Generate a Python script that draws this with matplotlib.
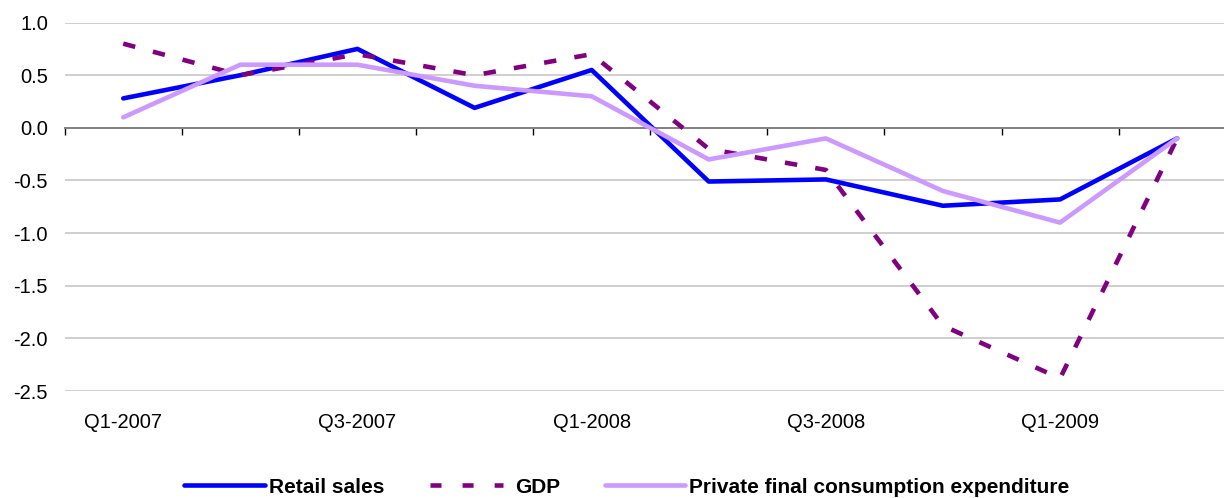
import matplotlib
matplotlib.use("Agg")
import matplotlib.pyplot as plt
from matplotlib.lines import Line2D
import matplotlib.transforms as mtransforms
import numpy as np

plt.rcParams['font.family'] = ['Liberation Sans', 'DejaVu Sans']

quarters = ["Q1-2007", "Q2-2007", "Q3-2007", "Q4-2007", "Q1-2008",
            "Q2-2008", "Q3-2008", "Q4-2008", "Q1-2009", "Q2-2009"]
tick_labels = ["Q1-2007", "", "Q3-2007", "", "Q1-2008", "", "Q3-2008", "", "Q1-2009", ""]
retail_sales = [0.28, 0.50, 0.75, 0.19, 0.55, -0.51, -0.49, -0.74, -0.68, -0.10]
gdp = [0.80, 0.50, 0.70, 0.50, 0.70, -0.20, -0.40, -1.88, -2.38, -0.10]
pfce = [0.10, 0.60, 0.60, 0.40, 0.30, -0.30, -0.10, -0.60, -0.90, -0.10]
y_ticks = [1.0, 0.5, 0.0, -0.5, -1.0, -1.5, -2.0, -2.5]

W, H = 1224, 498
fig = plt.figure(figsize=(W / 100, H / 100), dpi=100)
left, right, top, bottom = 64.7, 1235.7, 22.6, 391.0
ax = fig.add_axes([left / W, 1 - bottom / H, (right - left) / W, (bottom - top) / H])

x = np.arange(len(quarters))
ax.set_xlim(-0.5, len(quarters) - 0.5)
ax.set_ylim(-2.5, 1.0)

for y in y_ticks:
    if y != 0:
        ax.axhline(y, color="#CFCFCF", lw=1.4, zorder=1)

ax.plot(x, retail_sales, color="#0000FF", lw=3.3, solid_capstyle="round", zorder=3)
ax.plot(x, gdp, color="#800080", lw=3.3, dashes=(2.7, 4.0), zorder=3)
ax.plot(x, pfce, color="#CC99FF", lw=3.3, solid_capstyle="round", zorder=3)

for s in ["top", "right", "left"]:
    ax.spines[s].set_visible(False)
ax.spines["bottom"].set_position(("data", 0))
ax.spines["bottom"].set_color("#808080")
ax.spines["bottom"].set_linewidth(1.4)
ax.spines["bottom"].set_zorder(2)
ax.set_xticks(np.arange(-0.5, len(quarters), 1.0))
ax.set_xticklabels([])
ax.tick_params(axis="x", direction="out", length=5, width=1, color="#000000")

ax.set_yticks(y_ticks)
ax.set_yticklabels([f"{v:.1f}" for v in y_ticks], fontsize=14.5)
ax.tick_params(axis="y", length=0, pad=12)

trans = mtransforms.blended_transform_factory(ax.transData, ax.transAxes)
for xi, lab in zip(x, tick_labels):
    if lab:
        ax.text(xi, -(422 - bottom) / (bottom - top), lab, transform=trans,
                ha="center", va="center", fontsize=14.5)

# legend drawn manually in figure pixel coordinates
ly = 1 - 485 / H
ty = 1 - 487 / H
def fx(px):
    return px / W
fig.add_artist(Line2D([fx(184), fx(265)], [ly, ly], color="#0000FF", lw=3.3,
                      solid_capstyle="round", transform=fig.transFigure))
fig.text(fx(269), ty, "Retail sales", fontsize=15, fontweight="bold", va="center", ha="left")
fig.add_artist(Line2D([fx(430), fx(503)], [ly, ly], color="#800080", lw=3.3,
                      dashes=(2.4, 4.6), transform=fig.transFigure))
fig.text(fx(515), ty, "GDP", fontsize=15, fontweight="bold", va="center", ha="left")
fig.add_artist(Line2D([fx(605), fx(685)], [ly, ly], color="#CC99FF", lw=3.3,
                      solid_capstyle="round", transform=fig.transFigure))
fig.text(fx(689), ty, "Private final consumption expenditure", fontsize=15,
         fontweight="bold", va="center", ha="left")

fig.savefig("out.png", dpi=100)
